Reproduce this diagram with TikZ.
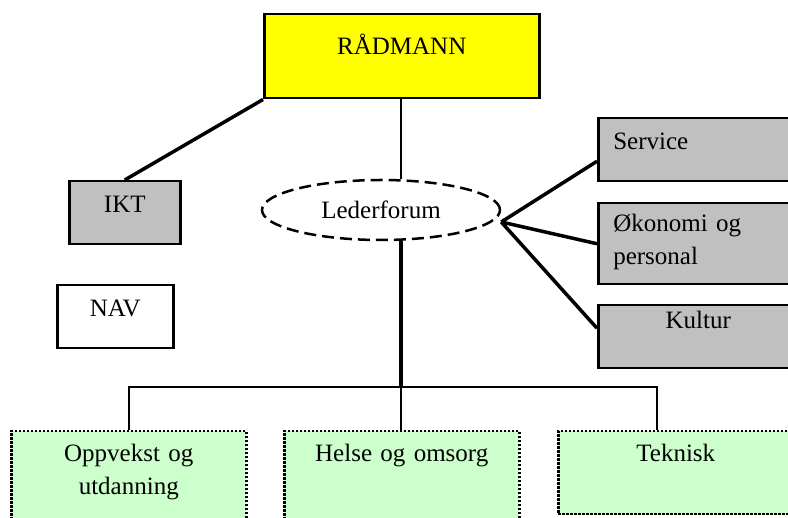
\documentclass[tikz,border=0pt]{standalone}
\usepackage{fontspec}
\setmainfont{Liberation Serif}
\usetikzlibrary{positioning,shapes.geometric,calc}
\definecolor{boss}{HTML}{FFFF00}
\definecolor{staff}{HTML}{C0C0C0}
\definecolor{unit}{HTML}{CCFFCC}

\begin{document}
\begin{tikzpicture}[x=1pt,y=-1pt,font=\fontsize{25}{33}\selectfont,
  box/.style={draw,line width=2.5pt,anchor=north west,inner xsep=5pt,inner ysep=0pt,align=center},
  staffbox/.style={box,fill=staff},
  unitbox/.style={box,fill=unit,line width=2.5pt,dash pattern=on 2.5pt off 1.5pt,text width=225pt,text height=30pt},
  forum/.style={draw,ellipse,line width=2.5pt,dash pattern=on 12pt off 6pt,minimum width=238pt,minimum height=60pt,inner sep=0pt},
  link/.style={line width=3.5pt},
  thinlink/.style={line width=2.5pt}]
\useasboundingbox (0,0) rectangle (788,518);
\clip (0,0) rectangle (788,518);
\node[box,fill=boss,text width=265pt,text height=40pt,text depth=44pt] (raadmann) at (263,13) {RÅDMANN};
\node[staffbox,text width=101pt,text height=31pt,text depth=32pt] (ikt) at (68,180) {IKT};
\node[box,fill=white,text width=106pt,text height=31pt,text depth=32pt] (nav) at (56,284) {NAV};
\node[forum] (leder) at (381,210) {Lederforum};
\node[staffbox,align=left,inner xsep=15pt,text width=170pt,text height=31pt,text depth=32pt] (service) at (597,117) {Service};
\node[staffbox,align=left,inner xsep=15pt,text width=170pt,text height=28pt,text depth=53pt,below=19.5pt of service.south west,anchor=north west] (okonomi) {Økonomi og\\personal};
\node[staffbox,text width=190pt,text height=23pt,text depth=40pt,below=18.5pt of okonomi.south west,anchor=north west] (kultur) {Kultur};
\node[unitbox,text depth=70pt] (oppvekst) at (10,430) {Oppvekst og\\utdanning};
\node[unitbox,text depth=70pt,right=35.5pt of oppvekst.north east,anchor=north west] (helse) {Helse og omsorg};
\node[unitbox,text depth=53pt,right=36.5pt of helse.north east,anchor=north west] (teknisk) {Teknisk};
% connectors
\coordinate (hub) at (401,387);
\coordinate (fan) at ([yshift=-12pt]leder.east);
\draw[link] (raadmann.south west) -- (ikt.north);
\draw[thinlink] (hub |- raadmann.south) -- (hub |- leder.north);
\draw[link] (hub |- leder.south) -- (hub);
\draw[thinlink] (oppvekst.north) |- (hub) -| ([xshift=-19pt]teknisk.north); \draw[thinlink] (hub) -- (hub |- helse.north);
\draw[link] (fan) -- ([yshift=-11.5pt]service.west); \draw[link] (fan) -- (okonomi.west); \draw[link] (fan) -- ([yshift=8.5pt]kultur.west);
\end{tikzpicture}
\end{document}
